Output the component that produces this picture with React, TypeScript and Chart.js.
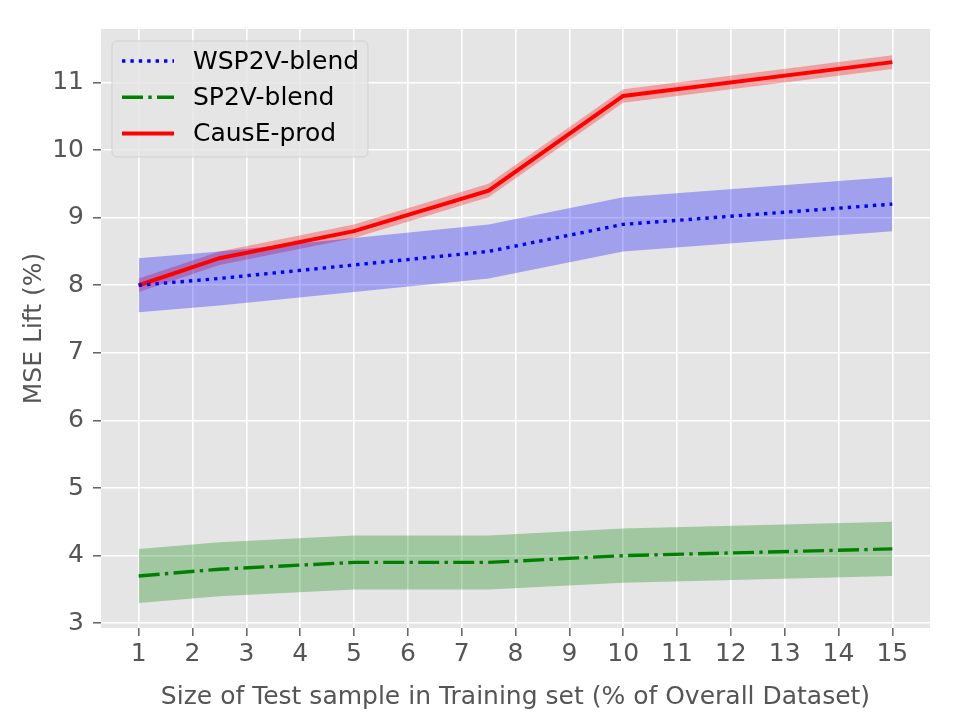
import React, { useEffect, useRef } from 'react';
import { Chart, registerables } from 'chart.js';

Chart.register(...registerables);

// Test-sample sizes (% of overall dataset) at which each model was evaluated
const sampleSizes = [1, 2.5, 5, 7.5, 10, 15];

// Mean MSE lift (%) and half-width of the shaded spread for each model
const wsp2vMean = [8.0, 8.1, 8.3, 8.5, 8.9, 9.2];
const wsp2vSpread = [0.4, 0.4, 0.4, 0.4, 0.4, 0.4];
const sp2vMean = [3.7, 3.8, 3.9, 3.9, 4.0, 4.1];
const sp2vSpread = [0.4, 0.4, 0.4, 0.4, 0.4, 0.4];
const causeMean = [8.0, 8.4, 8.8, 9.4, 10.8, 11.3];
const causeSpread = [0.1, 0.1, 0.1, 0.1, 0.1, 0.1];

const seriesLabels = ['WSP2V-blend', 'SP2V-blend', 'CausE-prod'];

const xTicks = [1, 2, 3, 4, 5, 6, 7, 8, 9, 10, 11, 12, 13, 14, 15];
const yTicks = [3, 4, 5, 6, 7, 8, 9, 10, 11];

const xTitle = 'Size of Test sample in Training set (% of Overall Dataset)';
const yTitle = 'MSE Lift (%)';

const FONT = '"DejaVu Sans", "Liberation Sans", sans-serif';
const TEXT_GREY = '#555555';
const PANEL_BG = '#E5E5E5';

const toPoints = (ys: number[]) => sampleSizes.map((x, i) => ({ x, y: ys[i] }));
const offsetPoints = (ys: number[], d: number[], sign: number) =>
  sampleSizes.map((x, i) => ({ x, y: ys[i] + sign * d[i] }));

// Grey panel behind the plotting area
const panelBackground = {
  id: 'panelBackground',
  beforeDraw(chart: any) {
    const { ctx, chartArea } = chart;
    if (!chartArea) return;
    ctx.save();
    ctx.fillStyle = PANEL_BG;
    ctx.fillRect(chartArea.left, chartArea.top, chartArea.right - chartArea.left, chartArea.bottom - chartArea.top);
    ctx.restore();
  },
};

// Legend drawn inside the upper-left corner of the plot
const insetLegend = {
  id: 'insetLegend',
  afterDatasetsDraw(chart: any) {
    const { ctx, chartArea } = chart;
    const items = chart.data.datasets.filter((d: any) => d.inLegend);
    const x0 = chartArea.left + 11;
    const y0 = chartArea.top + 12;
    const w = 256;
    const h = 116;
    ctx.save();
    ctx.beginPath();
    if (ctx.roundRect) ctx.roundRect(x0, y0, w, h, 5);
    else ctx.rect(x0, y0, w, h);
    ctx.fillStyle = 'rgba(229,229,229,0.8)';
    ctx.fill();
    ctx.lineWidth = 1;
    ctx.strokeStyle = 'rgba(204,204,204,0.8)';
    ctx.stroke();

    ctx.font = `25px ${FONT}`;
    ctx.textBaseline = 'middle';
    ctx.textAlign = 'left';
    items.forEach((d: any, i: number) => {
      const cy = y0 + 20 + i * 36.3;
      ctx.beginPath();
      ctx.setLineDash(d.borderDash || []);
      ctx.lineWidth = d.borderWidth;
      ctx.strokeStyle = d.borderColor;
      ctx.lineCap = 'butt';
      ctx.moveTo(x0 + 10, cy);
      ctx.lineTo(x0 + 62, cy);
      ctx.stroke();
      ctx.setLineDash([]);
      ctx.fillStyle = '#000000';
      ctx.fillText(d.label, x0 + 81, cy + 1);
    });
    ctx.restore();
  },
};

function bandPair(mean: number[], spread: number[], fillColor: string, label: string) {
  return [
    {
      label: label + ' lower',
      data: offsetPoints(mean, spread, -1),
      borderWidth: 0,
      pointRadius: 0,
      fill: false,
      order: 2,
    },
    {
      label: label + ' upper',
      data: offsetPoints(mean, spread, 1),
      borderWidth: 0,
      pointRadius: 0,
      backgroundColor: fillColor,
      fill: '-1',
      order: 2,
    },
  ];
}

export default function App() {
  const canvasRef = useRef<HTMLCanvasElement | null>(null);

  useEffect(() => {
    document.body.style.margin = '0';
    const canvas = canvasRef.current;
    if (!canvas) return;

    const lineBase = { pointRadius: 0, fill: false, tension: 0, order: 0, inLegend: true, borderCapStyle: 'butt' };

    const chart = new Chart(canvas, {
      type: 'line',
      data: {
        datasets: [
          ...bandPair(wsp2vMean, wsp2vSpread, 'rgba(0,0,255,0.3)', seriesLabels[0]),
          ...bandPair(sp2vMean, sp2vSpread, 'rgba(0,128,0,0.3)', seriesLabels[1]),
          ...bandPair(causeMean, causeSpread, 'rgba(255,0,0,0.3)', seriesLabels[2]),
          {
            ...lineBase,
            label: seriesLabels[0],
            data: toPoints(wsp2vMean),
            borderColor: '#0000ff',
            borderWidth: 3.4,
            borderDash: [3.4, 5],
          },
          {
            ...lineBase,
            label: seriesLabels[1],
            data: toPoints(sp2vMean),
            borderColor: '#008000',
            borderWidth: 3.4,
            borderDash: [21, 5.3, 3.4, 5.3],
          },
          {
            ...lineBase,
            label: seriesLabels[2],
            data: toPoints(causeMean),
            borderColor: '#ff0000',
            borderWidth: 4,
          },
        ] as any,
      },
      options: {
        animation: false,
        responsive: false,
        maintainAspectRatio: false,
        layout: { padding: { left: 0, top: 29, right: 30, bottom: 0 } },
        plugins: {
          legend: { display: false },
          tooltip: { enabled: false },
          filler: { propagate: false },
        },
        scales: {
          x: {
            type: 'linear',
            min: 0.3,
            max: 15.7,
            afterBuildTicks: (scale: any) => {
              scale.ticks = xTicks.map((v) => ({ value: v }));
            },
            afterFit: (scale: any) => {
              scale.height = 92;
            },
            ticks: {
              autoSkip: false,
              maxRotation: 0,
              color: TEXT_GREY,
              font: { family: FONT, size: 25 },
              padding: 3,
              callback: (v: any) => String(v),
            },
            grid: {
              color: '#ffffff',
              lineWidth: 1.6,
              drawTicks: true,
              tickLength: 8,
              tickColor: TEXT_GREY,
              tickWidth: 1.4,
            },
            border: { display: false },
            title: {
              display: true,
              text: xTitle,
              color: TEXT_GREY,
              font: { family: FONT, size: 25 },
              padding: { top: 0, bottom: 8 },
            },
          },
          y: {
            type: 'linear',
            min: 2.93,
            max: 11.79,
            afterBuildTicks: (scale: any) => {
              scale.ticks = yTicks.map((v) => ({ value: v }));
            },
            afterFit: (scale: any) => {
              scale.width = 101;
            },
            ticks: {
              color: TEXT_GREY,
              font: { family: FONT, size: 25 },
              padding: 9,
              callback: (v: any) => String(v),
            },
            grid: {
              color: '#ffffff',
              lineWidth: 1.6,
              drawTicks: true,
              tickLength: 8,
              tickColor: TEXT_GREY,
              tickWidth: 1.4,
            },
            border: { display: false },
            title: {
              display: true,
              text: yTitle,
              color: TEXT_GREY,
              font: { family: FONT, size: 25 },
              padding: { top: 19, bottom: 0 },
            },
          },
        },
      } as any,
      plugins: [panelBackground, insetLegend],
    });

    return () => chart.destroy();
  }, []);

  return (
    <div style={{ width: 960, height: 720, background: '#ffffff' }}>
      <canvas ref={canvasRef} width={960} height={720} style={{ display: 'block', width: 960, height: 720 }} />
    </div>
  );
}
